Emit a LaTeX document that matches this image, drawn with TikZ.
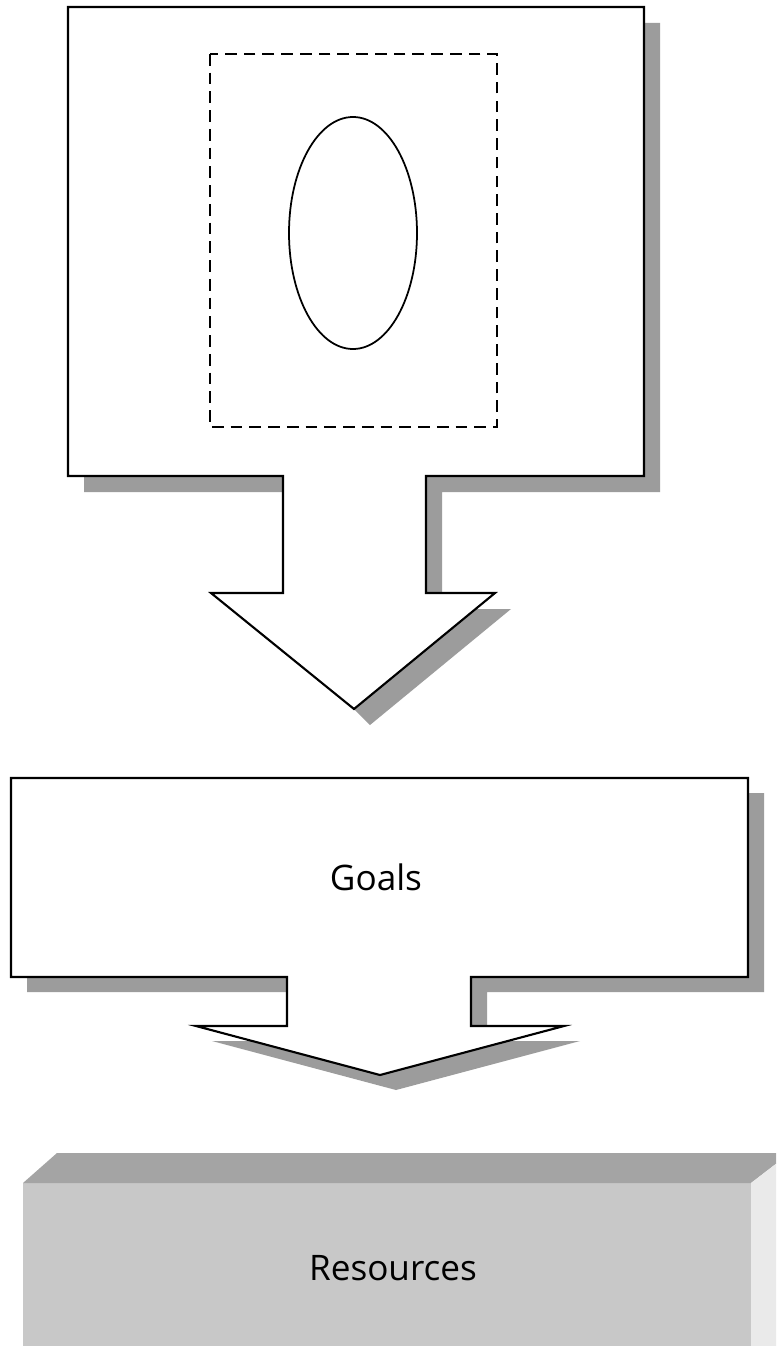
\documentclass[tikz,border=0pt]{standalone}
\usepackage{fontspec}
\setmainfont{Open Sans}
\definecolor{shadowgray}{HTML}{9C9C9C}
\definecolor{blocktop}{HTML}{A4A4A4}
\definecolor{blockfront}{HTML}{C8C8C8}
\definecolor{blockside}{HTML}{EAEAEA}
\begin{document}
\begin{tikzpicture}[x=0.03cm, y=-0.03cm,
  outline/.style={draw=black, line width=1.8pt, fill=white, line join=miter},
  dropshadow/.style={fill=shadowgray},
  dashedbox/.style={draw=black, line width=1.5pt, dash pattern=on 10pt off 6pt},
  oval/.style={draw=black, line width=1.5pt},
  caption/.style={font=\fontsize{30}{36}\selectfont, text=black, inner sep=0pt}]

\useasboundingbox (0,0) rectangle (776,1346);
\clip (0,0) rectangle (776,1346);
\fill[white] (0,0) rectangle (776,1346);

% upper frame with its downward arrow: shadow first, then the shape
\fill[dropshadow]
  (84,23) -- (660,23) -- (660,492) -- (442,492) -- (442,609) -- (511,609)
  -- (370,725) -- (354,709) -- (283,651) -- (283,492) -- (84,492) -- cycle;
\draw[outline]
  (68,7) -- (644,7) -- (644,476) -- (426,476) -- (426,593) -- (495,593)
  -- (354,709) -- (211,593) -- (283,593) -- (283,476) -- (68,476) -- cycle;

% dashed inner region and the oval inside it
\draw[dashedbox] (210,54) rectangle (497,427);
\draw[oval] (353,233) ellipse [x radius=64, y radius=116];

% goals box with its downward arrow
\fill[dropshadow, shift={(16,15)}]
  (11,778) -- (748,778) -- (748,977) -- (471,977) -- (471,1026) -- (564,1026)
  -- (380,1075) -- (196,1026) -- (287,1026) -- (287,977) -- (11,977) -- cycle;
\draw[outline]
  (11,778) -- (748,778) -- (748,977) -- (471,977) -- (471,1026) -- (564,1026)
  -- (380,1075) -- (196,1026) -- (287,1026) -- (287,977) -- (11,977) -- cycle;
\node[caption] (goals) at (376,877) {Goals};

% resources block drawn as a raised slab
\fill[blockfront] (23,1183) rectangle (751,1360);
\fill[blocktop] (23,1183) -- (57,1153) -- (790,1153) -- (751,1183) -- cycle;
\fill[blockside] (751,1183) -- (790,1153) -- (790,1360) -- (751,1360) -- cycle;
\node[caption] (resources) at (393,1268) {Resources};
\end{tikzpicture}
\end{document}
